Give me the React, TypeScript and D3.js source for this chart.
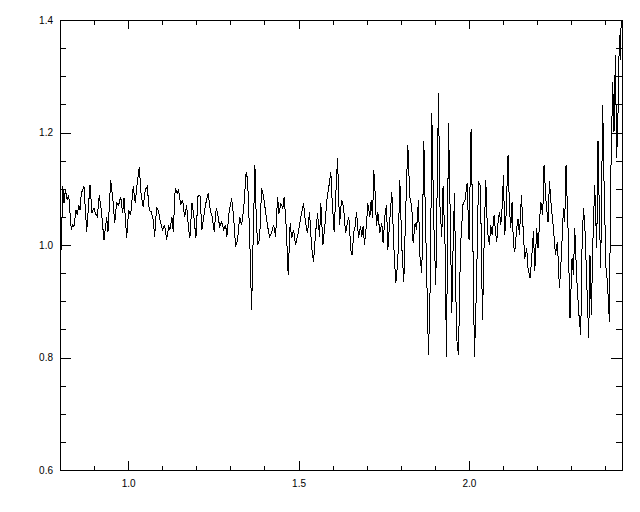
import { useEffect, useRef } from "react";
import * as d3 from "d3";

// spectrum (wavelength in microns, normalised flux)
const wavelength = [
  0.8, 0.8038, 0.8079, 0.8117, 0.8155, 0.8214, 0.8255, 0.8331, 0.8372, 0.8411,
  0.8469, 0.8507, 0.8548, 0.8587, 0.8625, 0.8704, 0.8783, 0.888, 0.8938, 0.8997,
  0.9035, 0.9094, 0.9152, 0.9211, 0.929, 0.937, 0.9408, 0.9487, 0.9563, 0.9604,
  0.9663, 0.9721, 0.978, 0.9839, 0.9877, 0.9956, 1.0015, 1.0073, 1.015, 1.0208,
  1.0267, 1.0325, 1.0384, 1.0443, 1.0501, 1.056, 1.0619, 1.0677, 1.0736, 1.0777,
  1.0836, 1.0894, 1.0953, 1.1012, 1.107, 1.1129, 1.1188, 1.1226, 1.1284, 1.1323,
  1.1381, 1.144, 1.1481, 1.154, 1.1598, 1.1657, 1.1716, 1.1774, 1.1812, 1.1871,
  1.193, 1.1988, 1.2047, 1.2106, 1.2164, 1.2223, 1.2282, 1.2349, 1.2408, 1.2467,
  1.2525, 1.2584, 1.2625, 1.2683, 1.2742, 1.2801, 1.2859, 1.2897, 1.2956, 1.3035,
  1.3094, 1.3153, 1.3211, 1.327, 1.3328, 1.3387, 1.3463, 1.3504, 1.3563, 1.3622,
  1.366, 1.3719, 1.3757, 1.3798, 1.3856, 1.3915, 1.3974, 1.4032, 1.4091, 1.415,
  1.4208, 1.4267, 1.4326, 1.4384, 1.4422, 1.4481, 1.454, 1.4578, 1.4637, 1.4695,
  1.4754, 1.4795, 1.4854, 1.4912, 1.4988, 1.5067, 1.5146, 1.5205, 1.5264, 1.5322,
  1.5381, 1.544, 1.5498, 1.5557, 1.5616, 1.5654, 1.5713, 1.5771, 1.583, 1.5889,
  1.5947, 1.5985, 1.6044, 1.6103, 1.6144, 1.6202, 1.6261, 1.632, 1.6378, 1.6437,
  1.6475, 1.6534, 1.6572, 1.6622, 1.666, 1.6701, 1.676, 1.6818, 1.6856, 1.6894,
  1.6935, 1.6994, 1.7032, 1.7091, 1.7129, 1.717, 1.7208, 1.7246, 1.7287, 1.7326,
  1.7384, 1.7443, 1.7481, 1.754, 1.7581, 1.7619, 1.7677, 1.7736, 1.7795, 1.7853,
  1.7912, 1.7971, 1.8029, 1.8088, 1.8147, 1.8205, 1.8264, 1.8323, 1.8361, 1.842,
  1.8461, 1.8519, 1.8557, 1.8616, 1.8675, 1.8733, 1.8812, 1.8871, 1.8909, 1.8968,
  1.9026, 1.9106, 1.9144, 1.9202, 1.924, 1.9299, 1.934, 1.9399, 1.9437, 1.9496,
  1.9534, 1.9575, 1.9634, 1.9692, 1.9751, 1.9827, 1.9886, 1.9944, 2.0003, 2.0062,
  2.0103, 2.0161, 2.022, 2.0279, 2.0337, 2.0396, 2.0455, 2.0493, 2.0543, 2.0601,
  2.0639, 2.0678, 2.0737, 2.0778, 2.0816, 2.0854, 2.0895, 2.0933, 2.0971, 2.1012,
  2.105, 2.1088, 2.1147, 2.1188, 2.1226, 2.1264, 2.1305, 2.1343, 2.1402, 2.144,
  2.1481, 2.154, 2.1578, 2.1637, 2.1695, 2.1733, 2.1792, 2.1833, 2.1892, 2.193,
  2.1988, 2.2027, 2.2106, 2.2164, 2.2202, 2.2261, 2.232, 2.2361, 2.2419, 2.2478,
  2.2537, 2.2595, 2.2654, 2.2713, 2.2771, 2.2809, 2.2848, 2.2906, 2.2965, 2.3024,
  2.3065, 2.3103, 2.3161, 2.322, 2.3279, 2.3317, 2.3358, 2.3396, 2.3455, 2.3513,
  2.3551, 2.3592, 2.363, 2.3689, 2.3748, 2.3786, 2.3827, 2.3865, 2.3924, 2.3962,
  2.4021, 2.4062, 2.412, 2.4158, 2.4217, 2.4255, 2.4296, 2.4334, 2.4372, 2.4413,
  2.4443, 2.4472,
];

const flux = [
  1.004, 0.991, 1.104, 1.075, 1.098, 1.08, 1.089, 1.027, 1.036, 1.033,
  1.062, 1.053, 1.071, 1.062, 1.092, 1.104, 1.024, 1.107, 1.057, 1.066,
  1.057, 1.05, 1.089, 1.062, 1.009, 1.05, 1.024, 1.116, 1.075, 1.039,
  1.075, 1.071, 1.086, 1.057, 1.084, 1.012, 1.062, 1.053, 1.104, 1.075,
  1.11, 1.139, 1.086, 1.068, 1.098, 1.104, 1.062, 1.059, 1.044, 1.015,
  1.068, 1.059, 1.039, 1.027, 1.036, 1.009, 1.033, 1.027, 1.05, 1.024,
  1.101, 1.092, 1.098, 1.071, 1.08, 1.05, 1.071, 1.027, 1.012, 1.075,
  1.05, 1.012, 1.086, 1.089, 1.027, 1.053, 1.075, 1.092, 1.062, 1.05,
  1.024, 1.065, 1.056, 1.033, 1.041, 1.027, 1.036, 1.015, 1.056, 1.083,
  1.05, 0.997, 1.009, 1.05, 1.036, 1.062, 1.13, 1.116, 1.021, 0.884,
  0.991, 1.142, 1.05, 1.0, 1.009, 1.101, 1.086, 1.059, 1.033, 1.015,
  1.021, 1.036, 1.015, 1.086, 1.056, 1.074, 1.065, 1.086, 1.033, 0.947,
  1.039, 1.012, 1.027, 1.0, 1.021, 1.05, 1.074, 1.039, 1.021, 1.059,
  0.997, 0.97, 1.021, 1.056, 1.015, 1.074, 1.0, 1.033, 1.08, 1.104,
  1.13, 1.08, 1.024, 1.104, 1.154, 1.036, 1.08, 1.068, 1.021, 1.041,
  1.05, 0.991, 0.982, 1.024, 1.033, 1.059, 1.012, 1.033, 1.015, 1.033,
  1.0, 1.039, 1.074, 1.05, 1.08, 1.048, 1.133, 1.092, 1.033, 1.059,
  1.021, 1.039, 1.003, 1.056, 1.071, 0.991, 1.044, 1.095, 0.997, 0.932,
  0.97, 1.116, 0.997, 0.935, 1.068, 1.178, 1.086, 1.068, 1.003, 1.039,
  1.027, 1.08, 0.982, 0.95, 1.184, 1.021, 0.804, 0.95, 1.234, 1.039,
  0.929, 1.27, 1.074, 1.015, 1.104, 0.997, 0.801, 1.216, 1.098, 0.879,
  0.997, 1.092, 0.837, 0.804, 0.997, 1.074, 1.08, 1.11, 1.009, 1.207,
  1.056, 0.801, 0.926, 1.113, 1.104, 0.867, 1.033, 1.116, 1.024, 1.0,
  1.036, 1.018, 1.053, 1.024, 1.006, 1.041, 1.059, 1.036, 1.065, 1.124,
  1.018, 1.053, 1.16, 1.065, 1.03, 1.077, 1.0, 0.988, 1.03, 1.047,
  1.018, 1.089, 1.041, 0.976, 0.994, 0.959, 0.941, 0.97, 1.024, 0.953,
  1.03, 0.994, 1.077, 1.053, 1.142, 1.077, 1.041, 1.113, 1.065, 1.03,
  0.982, 1.006, 0.923, 0.982, 1.065, 1.041, 1.142, 1.03, 0.87, 0.976,
  0.947, 1.03, 0.941, 0.881, 0.84, 0.994, 1.065, 1.041, 0.935, 0.834,
  0.982, 0.876, 0.994, 1.107, 0.994, 1.184, 1.053, 0.959, 1.249, 1.113,
  0.959, 0.935, 0.864, 1.113, 1.29, 1.201, 1.338, 1.154, 1.231, 1.373,
  1.329, 1.418,
];

const xTickValues = [1.0, 1.5, 2.0];
const xTickLabels = ["1.0", "1.5", "2.0"];
const yTickValues = [0.6, 0.8, 1.0, 1.2, 1.4];
const yTickLabels = ["0.6", "0.8", "1.0", "1.2", "1.4"];

export default function App() {
  const ref = useRef<SVGSVGElement>(null);

  useEffect(() => {
    const svgEl = d3.select(ref.current);
    svgEl.selectAll("*").remove();

    const margin = { top: 20, right: 18, bottom: 42, left: 60 },
      width = 640 - margin.left - margin.right,
      height = 512 - margin.top - margin.bottom;

    const svg = svgEl
      .append("g")
      .attr("transform", "translate(" + margin.left + "," + margin.top + ")");

    const x = d3.scaleLinear().domain([0.8, 2.449]).range([0, width]);
    const y = d3.scaleLinear().domain([0.6, 1.4]).range([height, 0]);

    const xMajor = height * 0.02;
    const yMajor = width * 0.02;
    const xMinorValues = d3.range(9, 25).map((d) => d / 10);
    const yMinorValues = d3.range(13, 28).map((d) => d / 20);

    const styleAxis = (g) => {
      g.select(".domain").remove();
      g.selectAll("line").attr("shape-rendering", "crispEdges").attr("stroke", "#000");
      g.attr("font-family", "'Liberation Sans', Arial, sans-serif").attr("font-size", 10);
      g.selectAll("text").attr("fill", "#000");
    };

    // bottom
    svg.append("g").attr("transform", "translate(0," + height + ")")
      .call(d3.axisBottom(x).tickValues(xMinorValues).tickSize(-xMajor / 2).tickFormat(() => ""))
      .call(styleAxis);
    svg.append("g").attr("transform", "translate(0," + height + ")")
      .call(d3.axisBottom(x).tickValues(xTickValues).tickSize(-xMajor).tickPadding(10)
        .tickFormat((d, i) => xTickLabels[i]))
      .call(styleAxis);
    // top
    svg.append("g")
      .call(d3.axisTop(x).tickValues(xMinorValues).tickSize(-xMajor / 2).tickFormat(() => ""))
      .call(styleAxis);
    svg.append("g")
      .call(d3.axisTop(x).tickValues(xTickValues).tickSize(-xMajor).tickFormat(() => ""))
      .call(styleAxis);
    // left
    svg.append("g")
      .call(d3.axisLeft(y).tickValues(yMinorValues).tickSize(-yMajor / 2).tickFormat(() => ""))
      .call(styleAxis);
    svg.append("g")
      .call(d3.axisLeft(y).tickValues(yTickValues).tickSize(-yMajor).tickPadding(7)
        .tickFormat((d, i) => yTickLabels[i]))
      .call(styleAxis);
    // right
    svg.append("g").attr("transform", "translate(" + width + ",0)")
      .call(d3.axisRight(y).tickValues(yMinorValues).tickSize(-yMajor / 2).tickFormat(() => ""))
      .call(styleAxis);
    svg.append("g").attr("transform", "translate(" + width + ",0)")
      .call(d3.axisRight(y).tickValues(yTickValues).tickSize(-yMajor).tickFormat(() => ""))
      .call(styleAxis);

    // frame
    svg.append("rect")
      .attr("x", 0).attr("y", 0)
      .attr("width", width).attr("height", height)
      .attr("fill", "none").attr("stroke", "#000")
      .attr("shape-rendering", "crispEdges");

    svg.append("clipPath").attr("id", "plot-clip")
      .append("rect").attr("width", width).attr("height", height);

    const line = d3.line()
      .x((d, i) => x(wavelength[i]))
      .y((d) => y(d));

    svg.append("path")
      .datum(flux)
      .attr("clip-path", "url(#plot-clip)")
      .attr("d", line)
      .attr("fill", "none")
      .attr("stroke", "#000")
      .attr("stroke-width", 1)
      .attr("shape-rendering", "crispEdges");
  }, []);

  return (
    <svg
      ref={ref}
      width={640}
      height={512}
      style={{ position: "absolute", left: 0, top: 0, background: "#fff" }}
    />
  );
}
